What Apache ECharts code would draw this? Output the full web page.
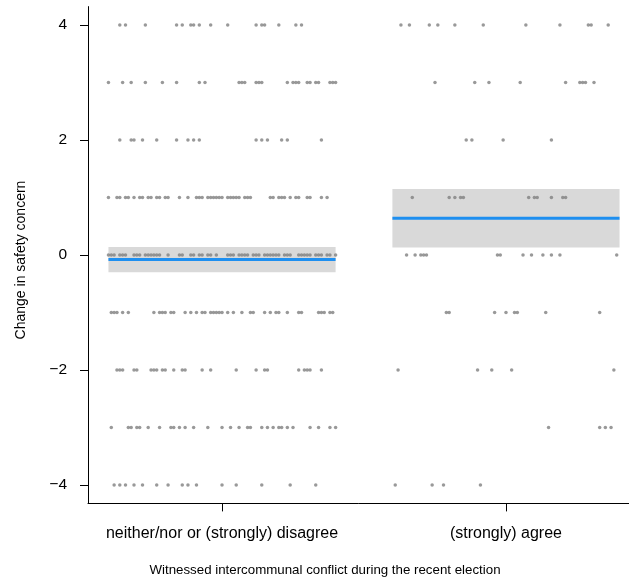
<!DOCTYPE html>
<html>
<head>
<meta charset="utf-8">
<script src="https://cdn.jsdelivr.net/npm/echarts@6/dist/echarts.min.js"></script>
<style>
  html, body { margin: 0; padding: 0; background: #fff; }
  #main { width: 629px; height: 581px; }
</style>
</head>
<body>
<div id="main"></div>
<script>
// categories on the x axis (1 and 2)
var categories = ['neither/nor or (strongly) disagree', '(strongly) agree'];
var levels = [4, 3, 2, 1, 0, -1, -2, -3, -4];
var yTicks = [-4, -2, 0, 2, 4];

// horizontal jitter of each point around its category, one list per level
var jitterDisagree = [
  [-0.36, -0.34, -0.27, -0.16, -0.14, -0.11, -0.10, -0.08, -0.04, 0.02, 0.12, 0.14, 0.15, 0.20, 0.26, 0.28],
  [-0.40, -0.35, -0.32, -0.27, -0.21, -0.16, -0.08, -0.06, 0.06, 0.07, 0.08, 0.12, 0.13, 0.14, 0.23, 0.25, 0.26, 0.27, 0.30, 0.31, 0.33, 0.34, 0.38, 0.39, 0.40],
  [-0.36, -0.32, -0.31, -0.28, -0.23, -0.16, -0.12, -0.10, -0.08, 0.12, 0.14, 0.16, 0.21, 0.23, 0.35],
  [-0.40, -0.37, -0.36, -0.34, -0.33, -0.31, -0.29, -0.28, -0.26, -0.25, -0.23, -0.22, -0.20, -0.19, -0.15, -0.12,
   -0.09, -0.08, -0.07, -0.05, -0.04, -0.03, -0.02, -0.01, 0.00, 0.02, 0.03, 0.04, 0.05, 0.06, 0.08, 0.09, 0.10,
   0.17, 0.18, 0.20, 0.21, 0.22, 0.24, 0.26, 0.27, 0.30, 0.31, 0.35, 0.37],
  [-0.40, -0.39, -0.38, -0.36, -0.35, -0.34, -0.31, -0.30, -0.29, -0.27, -0.26, -0.25, -0.24, -0.23, -0.22, -0.19,
   -0.15, -0.14, -0.11, -0.10, -0.08, -0.07, -0.05, -0.04, -0.02, 0.02, 0.03, 0.04, 0.06, 0.07, 0.08, 0.09,
   0.11, 0.12, 0.13, 0.15, 0.16, 0.17, 0.18, 0.19, 0.20, 0.22, 0.23, 0.24, 0.27, 0.28, 0.29, 0.30, 0.31, 0.33,
   0.34, 0.35, 0.37, 0.38, 0.40],
  [-0.39, -0.38, -0.37, -0.35, -0.33, -0.24, -0.22, -0.21, -0.20, -0.18, -0.17, -0.13, -0.11, -0.09, -0.07, -0.06,
   -0.04, -0.03, -0.02, -0.01, 0.00, 0.02, 0.04, 0.07, 0.10, 0.11, 0.15, 0.17, 0.19, 0.20, 0.23, 0.27, 0.28,
   0.34, 0.35, 0.36, 0.38, 0.39],
  [-0.37, -0.36, -0.35, -0.31, -0.30, -0.25, -0.24, -0.23, -0.21, -0.20, -0.17, -0.14, -0.13, -0.07, -0.04, 0.05,
   0.12, 0.15, 0.16, 0.27, 0.29, 0.30, 0.31, 0.35],
  [-0.39, -0.33, -0.32, -0.30, -0.29, -0.26, -0.22, -0.18, -0.17, -0.15, -0.13, -0.10, -0.05, 0.00, 0.03, 0.06,
   0.09, 0.10, 0.14, 0.16, 0.18, 0.20, 0.21, 0.23, 0.25, 0.31, 0.34, 0.38, 0.40],
  [-0.38, -0.36, -0.34, -0.31, -0.28, -0.23, -0.19, -0.14, -0.12, -0.09, 0.00, 0.05, 0.14, 0.24, 0.33]
];
var jitterAgree = [
  [-0.37, -0.34, -0.27, -0.24, -0.18, -0.08, 0.07, 0.19, 0.29, 0.30, 0.36],
  [-0.25, -0.11, -0.06, 0.05, 0.21, 0.26, 0.27, 0.28, 0.31],
  [-0.14, -0.12, -0.01, 0.16],
  [-0.33, -0.20, -0.18, -0.16, -0.15, 0.08, 0.10, 0.11, 0.16, 0.20, 0.21],
  [-0.35, -0.32, -0.30, -0.29, -0.28, -0.03, -0.02, 0.06, 0.09, 0.13, 0.16, 0.19, 0.39],
  [-0.21, -0.20, -0.04, 0.00, 0.03, 0.04, 0.14, 0.33],
  [-0.38, -0.10, -0.05, 0.02, 0.38],
  [0.15, 0.33, 0.35, 0.37],
  [-0.39, -0.26, -0.22, -0.09]
];

// group means with confidence band
var means = [-0.08, 0.64];
var lower = [-0.30, 0.13];
var upper = [0.14, 1.15];

var points = [];
[jitterDisagree, jitterAgree].forEach(function (rows, c) {
  rows.forEach(function (row, i) {
    row.forEach(function (dx) {
      points.push([c + 1 + dx, levels[i]]);
    });
  });
});

var bands = categories.map(function (name, i) {
  return [i + 1, lower[i], upper[i], means[i]];
});

var fontFamily = '"Liberation Sans", Arial, sans-serif';

function renderBand(params, api) {
  var x = api.value(0);
  var p1 = api.coord([x - 0.4, api.value(2)]);
  var p2 = api.coord([x + 0.4, api.value(1)]);
  return {
    type: 'rect',
    shape: { x: p1[0], y: p1[1], width: p2[0] - p1[0], height: p2[1] - p1[1] },
    style: { fill: '#d9d9d9' }
  };
}

function renderMean(params, api) {
  var x = api.value(0);
  var p1 = api.coord([x - 0.4, api.value(3)]);
  var p2 = api.coord([x + 0.4, api.value(3)]);
  return {
    type: 'line',
    shape: { x1: p1[0], y1: p1[1], x2: p2[0], y2: p2[1] },
    style: { stroke: '#1e8ff0', lineWidth: 3 }
  };
}

var myChart = echarts.init(document.getElementById('main'));
myChart.setOption({
  animation: false,
  backgroundColor: '#ffffff',
  grid: { left: 88, top: 6.6, width: 552, height: 496.8, outerBoundsMode: 'none', containLabel: false },
  xAxis: {
    type: 'value',
    min: 0.528,
    max: 2.472,
    name: 'Witnessed intercommunal conflict during the recent election',
    nameLocation: 'middle',
    nameGap: 60,
    nameTextStyle: { color: '#000', fontSize: 13.3, fontFamily: fontFamily, padding: [0, 78, 0, 0] },
    splitLine: { show: false },
    axisLine: { onZero: false, lineStyle: { color: '#000', width: 1 } },
    axisTick: { customValues: [1, 2], length: 8, lineStyle: { color: '#000' } },
    axisLabel: {
      customValues: [1, 2],
      margin: 22,
      color: '#000',
      fontSize: 16,
      fontFamily: fontFamily,
      formatter: function (v) { return categories[Math.round(v) - 1]; }
    }
  },
  yAxis: {
    type: 'value',
    min: -4.32,
    max: 4.32,
    name: 'Change in safety concern',
    nameLocation: 'middle',
    nameGap: 60,
    nameTextStyle: { color: '#000', fontSize: 14, fontFamily: fontFamily, padding: [0, 10, 0, 0] },
    splitLine: { show: false },
    axisLine: { onZero: false, lineStyle: { color: '#000', width: 1 } },
    axisTick: { customValues: yTicks, length: 8, lineStyle: { color: '#000' } },
    axisLabel: {
      customValues: yTicks,
      margin: 21,
      color: '#000',
      fontSize: 15.5,
      fontFamily: fontFamily,
      formatter: function (v) { return String(v).replace('-', '\u2212'); }
    }
  },
  series: [{
    type: 'custom',
    renderItem: renderBand,
    data: bands,
    z: 1
  }, {
    type: 'scatter',
    data: points,
    symbolSize: 3.5,
    itemStyle: { color: '#808080' },
    z: 2
  }, {
    type: 'custom',
    renderItem: renderMean,
    data: bands,
    z: 3
  }]
});
</script>
</body>
</html>
